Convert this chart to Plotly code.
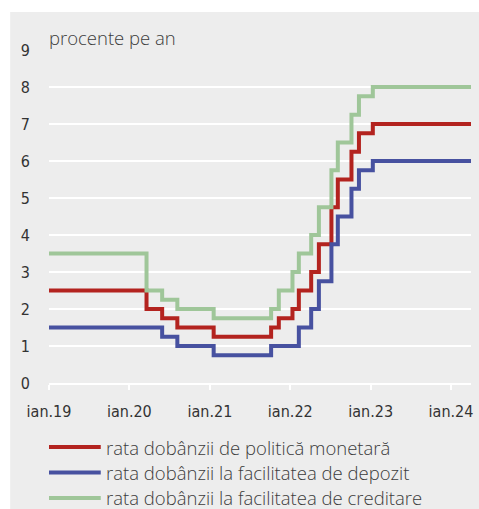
import plotly.graph_objects as go

# Effective dates of NBR rate decisions (last point closes the series)
dates = ["2019-01-01", "2020-03-19", "2020-05-29", "2020-08-06", "2021-01-18",
         "2021-10-06", "2021-11-10", "2022-01-11", "2022-02-09", "2022-04-06",
         "2022-05-11", "2022-07-07", "2022-08-05", "2022-10-06", "2022-11-09",
         "2023-01-11", "2024-04-01"]
policy_rate = [2.5, 2.0, 1.75, 1.5, 1.25, 1.5, 1.75, 2.0, 2.5, 3.0,
               3.75, 4.75, 5.5, 6.25, 6.75, 7.0, 7.0]
deposit_rate = [1.5, 1.5, 1.25, 1.0, 0.75, 1.0, 1.0, 1.0, 1.5, 2.0,
                2.75, 3.75, 4.5, 5.25, 5.75, 6.0, 6.0]
lending_rate = [3.5, 2.5, 2.25, 2.0, 1.75, 2.0, 2.5, 3.0, 3.5, 4.0,
                4.75, 5.75, 6.5, 7.25, 7.75, 8.0, 8.0]

series_names = ["rata dobânzii de politică monetară",
                "rata dobânzii la facilitatea de depozit",
                "rata dobânzii la facilitatea de creditare"]
series_colors = ["#b3231f", "#4751a0", "#9fc699"]

x_tick_vals = ["2019-01-01", "2020-01-01", "2021-01-01", "2022-01-01",
               "2023-01-01", "2024-01-01"]
x_tick_text = ["ian.19", "ian.20", "ian.21", "ian.22", "ian.23", "ian.24"]
y_tick_vals = [0, 1, 2, 3, 4, 5, 6, 7, 8, 9]

W, H = 479, 509
ML, MR, MT, MB = 49, 6, 50, 126
PW, PH = W - ML - MR, H - MT - MB
BG = "#ededed"
TICK_FONT = dict(family="DejaVu Sans Condensed, sans-serif",
                 size=16, color="#333333")
TEXT_FONT = dict(family="Open Sans, sans-serif", size=18.5, color="#3c3c3c", weight=300)


def px_x(p):
    return (p - ML) / PW


def px_y(p):
    return (H - MB - p) / PH


fig = go.Figure()
for name, vals, color in zip(series_names, [policy_rate, deposit_rate, lending_rate],
                             series_colors):
    fig.add_trace(go.Scatter(x=dates, y=vals, mode="lines", name=name,
                             line=dict(color=color, width=4, shape="hv")))

# grey panel behind the whole chart
fig.add_shape(type="rect", xref="paper", yref="paper",
              x0=px_x(10), x1=px_x(W + 2), y0=px_y(H + 2), y1=px_y(12),
              fillcolor=BG, line=dict(width=0), layer="below")

fig.add_annotation(text="procente pe an", xref="paper", yref="paper",
                   x=px_x(47), y=px_y(37), xanchor="left", yanchor="middle",
                   showarrow=False, font=TEXT_FONT)

# legend drawn below the plot area
legend_rows_px = [447, 472.5, 498]
for name, color, ypx in zip(series_names, series_colors, legend_rows_px):
    fig.add_shape(type="line", xref="paper", yref="paper",
                  x0=px_x(49), x1=px_x(101), y0=px_y(ypx), y1=px_y(ypx),
                  line=dict(color=color, width=4))
    fig.add_annotation(text=name, xref="paper", yref="paper",
                       x=px_x(104), y=px_y(ypx), xanchor="left", yanchor="middle",
                       showarrow=False, font=TEXT_FONT)

fig.update_layout(
    width=W, height=H,
    margin=dict(l=ML, r=MR, t=MT, b=MB),
    paper_bgcolor="white", plot_bgcolor=BG,
    showlegend=False,
    xaxis=dict(type="date", range=["2019-01-01", "2024-04-01"],
               tickmode="array", tickvals=x_tick_vals, ticktext=x_tick_text,
               showgrid=False, zeroline=False,
               showline=True, linecolor="white", linewidth=2,
               ticks="outside", ticklen=5, tickwidth=2, tickcolor="white",
               tickfont=TICK_FONT, ticklabelstandoff=8),
    yaxis=dict(range=[0, 9], tickmode="array", tickvals=y_tick_vals,
               showgrid=True, gridcolor="white", gridwidth=2,
               zeroline=False, showline=False, ticks="",
               tickfont=TICK_FONT, ticklabelstandoff=18),
)

fig.write_html("out.html")
